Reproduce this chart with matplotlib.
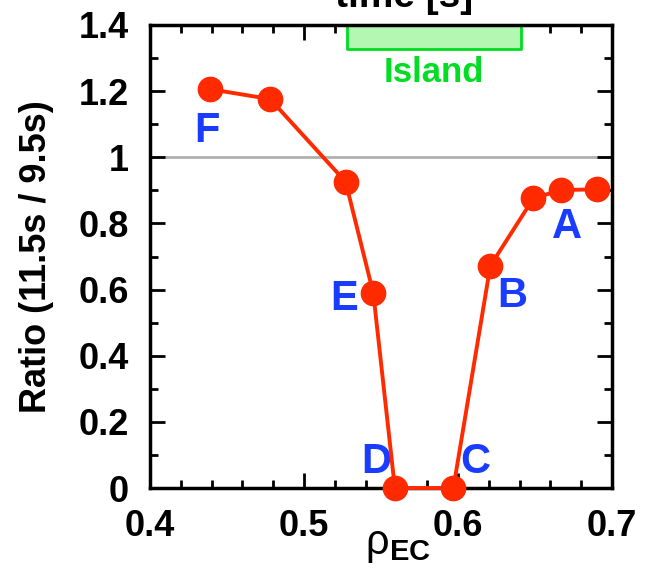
import matplotlib.pyplot as plt
from matplotlib.ticker import MultipleLocator

rho_ec = [0.439, 0.478, 0.527, 0.545, 0.559, 0.597, 0.621, 0.649, 0.667, 0.690]
ratio = [1.206, 1.176, 0.926, 0.589, 0.0, 0.0, 0.672, 0.876, 0.901, 0.903]

point_labels = ['F', 'E', 'D', 'C', 'B', 'A']
label_x = [0.437, 0.526, 0.547, 0.611, 0.635, 0.671]
label_y = [1.08, 0.57, 0.08, 0.08, 0.58, 0.79]

island_x = [0.528, 0.641]
island_y = [1.327, 1.40]

plt.rcParams['font.family'] = ['Liberation Sans', 'DejaVu Sans']
plt.rcParams['mathtext.fontset'] = 'custom'
plt.rcParams['mathtext.rm'] = 'Liberation Sans'
plt.rcParams['mathtext.bf'] = 'Liberation Sans:bold'

fig = plt.figure(figsize=(6.5, 5.68), dpi=100)
ax = fig.add_axes([150 / 650, 80 / 568, 462 / 650, 463 / 568])

red = '#ff2a00'
blue = '#1a3cff'
green = '#00dd22'

# reference line at ratio 1
ax.axhline(1.0, color='#b0b0b0', lw=2, zorder=1)

# island band
ax.fill_between(island_x, island_y[0], island_y[1], facecolor='#b3f7b3',
                edgecolor=green, lw=2, zorder=2)
ax.text(sum(island_x) / 2, 1.255, 'Island', color=green, fontsize=25,
        fontweight='bold', ha='center', va='center')

ax.plot(rho_ec, ratio, color=red, lw=2.8, marker='o', markersize=17.5,
        clip_on=False, zorder=5)

for t, x, y in zip(point_labels, label_x, label_y):
    ax.text(x, y, t, color=blue, fontsize=30, fontweight='bold',
            ha='center', va='center')

ax.set_xlim(0.4, 0.7)
ax.set_ylim(0, 1.4)
ax.xaxis.set_major_locator(MultipleLocator(0.1))
ax.xaxis.set_minor_locator(MultipleLocator(0.02))
ax.yaxis.set_minor_locator(MultipleLocator(0.1))
ax.set_yticks([0, 0.2, 0.4, 0.6, 0.8, 1.0, 1.2, 1.4],
              ['0', '0.2', '0.4', '0.6', '0.8', '1', '1.2', '1.4'])

ax.tick_params(which='both', direction='in', top=True, right=True, width=2,
               labelsize=26)
ax.tick_params(axis='x', pad=15)
ax.tick_params(axis='y', pad=15)
ax.tick_params(which='major', length=11)
ax.tick_params(which='minor', length=6)
for lab in ax.get_xticklabels() + ax.get_yticklabels():
    lab.set_fontweight('bold')
for s in ax.spines.values():
    s.set_linewidth(2.5)

ax.set_ylabel('Ratio (11.5s / 9.5s)', fontsize=26, fontweight='bold', labelpad=18)
ax.set_xlabel(r'$\mathrm{\rho}_{\mathbf{EC}}$', fontsize=30)
ax.xaxis.set_label_coords(0.537, -0.08)

# top axis label, cut off by the figure edge in the original
fig.text(404 / 650, 561 / 568, 'time [s]', fontsize=28, fontweight='bold',
         ha='center', va='baseline')

fig.savefig('out.png', dpi=100)
